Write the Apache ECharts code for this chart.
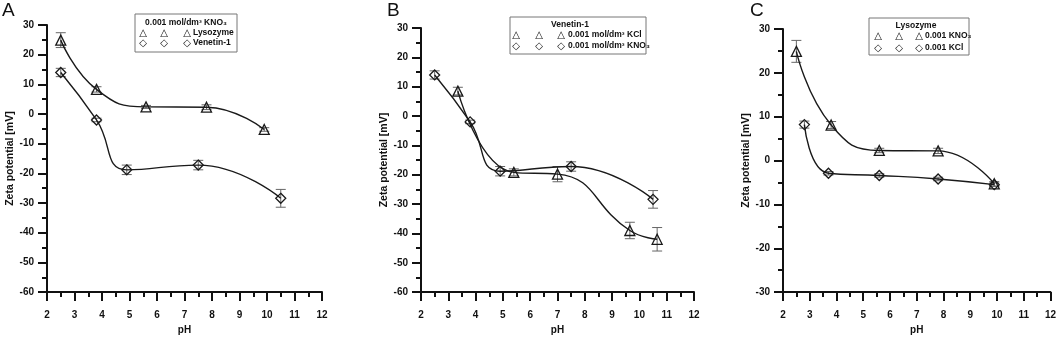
<!DOCTYPE html>
<html>
<head>
<meta charset="utf-8">
<script src="https://cdn.jsdelivr.net/npm/echarts@6/dist/echarts.min.js"></script>
<style>
  html, body { margin: 0; padding: 0; background: #fff; }
  #chart { width: 1059px; height: 340px; }
</style>
</head>
<body>
<div id="chart"></div>
<script>
// [pH, zeta potential (mV), error]
var aLysozyme = [[2.5, 24.9, 2.5], [3.8, 8.3, 0.9], [5.6, 2.4, 0.5], [7.8, 2.3, 0.8], [9.9, -5.2, 0.6]]
var aVenetin = [[2.5, 14, 1.4], [3.8, -2, 0.6], [4.9, -18.8, 1.6], [7.5, -17.2, 1.6], [10.5, -28.4, 3]]
var bKCl = [[3.35, 8.5, 1.3], [5.4, -19.2, 1.2], [7.0, -19.8, 2.6], [9.65, -39, 2.8], [10.65, -42, 4]]
var bKNO3 = [[2.5, 14, 1.4], [3.8, -2, 0.6], [4.9, -18.8, 1.6], [7.5, -17.2, 1.6], [10.5, -28.4, 3]]
var cKNO3 = [[2.5, 24.9, 2.5], [3.8, 8.1, 0.8], [5.6, 2.3, 0.5], [7.8, 2.2, 0.6], [9.9, -5.3, 0.5]]
var cKCl = [[2.8, 8.2, 0.8], [3.7, -2.9, 0.4], [5.6, -3.4, 0.4], [7.8, -4.2, 0.4], [9.9, -5.5, 0.4]]

var panelLetters = ['A', 'B', 'C']
var yRanges = [[-60, 30], [-60, 30], [-30, 30]]
var xRange = [2, 12]

var chart = echarts.init(document.getElementById('chart'))

var FONT = 'Liberation Sans, Arial, sans-serif'
var grids = [
  { left: 47, top: 25, width: 275, height: 275 },
  { left: 421, top: 28, width: 273, height: 272 },
  { left: 783, top: 29, width: 270, height: 269 },
]

function xAxisFor(i) {
  return {
    gridIndex: i,
    type: 'value',
    min: xRange[0],
    max: xRange[1],
    interval: 1,
    name: 'pH',
    nameLocation: 'middle',
    nameGap: 26,
    nameTextStyle: { fontFamily: FONT, fontWeight: 'bold', fontSize: 10, color: '#111' },
    axisLine: { onZero: false, lineStyle: { color: '#111', width: 2 } },
    axisTick: { length: 9, lineStyle: { color: '#111', width: 2 } },
    minorTick: { show: true, splitNumber: 2, length: 5, lineStyle: { color: '#111', width: 2 } },
    axisLabel: { margin: 18, fontFamily: FONT, fontWeight: 'bold', fontSize: 10, color: '#111' },
    splitLine: { show: false },
  }
}

function yAxisFor(i) {
  return {
    gridIndex: i,
    type: 'value',
    min: yRanges[i][0],
    max: yRanges[i][1],
    interval: 10,
    name: 'Zeta potential [mV]',
    nameLocation: 'middle',
    nameGap: 31,
    nameTextStyle: { fontFamily: FONT, fontWeight: 'bold', fontSize: 10.5, color: '#111' },
    axisLine: { show: true, onZero: false, lineStyle: { color: '#111', width: 2 } },
    axisTick: { show: true, length: 9, lineStyle: { color: '#111', width: 2 } },
    minorTick: { show: true, splitNumber: 2, length: 5, lineStyle: { color: '#111', width: 2 } },
    axisLabel: { margin: 13, fontFamily: FONT, fontWeight: 'bold', fontSize: 10, color: '#111' },
    splitLine: { show: false },
  }
}

function curve(data, i, symbol) {
  return {
    type: 'line',
    xAxisIndex: i,
    yAxisIndex: i,
    smooth: 0.5,
    data: data.map(function (d) { return [d[0], d[1]] }),
    symbol: symbol,
    symbolSize: 10,
    lineStyle: { color: '#1a1a1a', width: 1.4 },
    itemStyle: { color: 'rgba(255,255,255,0)', borderColor: '#1a1a1a', borderWidth: 1.3 },
    z: 3,
  }
}

function errorBars(data, i) {
  return {
    type: 'custom',
    xAxisIndex: i,
    yAxisIndex: i,
    data: data.map(function (d) { return [d[0], d[1] - d[2], d[1] + d[2]] }),
    encode: { x: 0, y: [1, 2] },
    renderItem: function (params, api) {
      var lo = api.coord([api.value(0), api.value(1)])
      var hi = api.coord([api.value(0), api.value(2)])
      var w = 5
      var st = { stroke: '#666', lineWidth: 1 }
      return {
        type: 'group',
        children: [
          { type: 'line', shape: { x1: lo[0], y1: lo[1], x2: hi[0], y2: hi[1] }, style: st },
          { type: 'line', shape: { x1: lo[0] - w, y1: lo[1], x2: lo[0] + w, y2: lo[1] }, style: st },
          { type: 'line', shape: { x1: hi[0] - w, y1: hi[1], x2: hi[0] + w, y2: hi[1] }, style: st },
        ],
      }
    },
    z: 2,
  }
}

// Origin-style legend box: title + rows with three symbols each
function legendBox(box, title, rows) {
  var els = [
    {
      type: 'rect',
      shape: { x: box.x, y: box.y, width: box.w, height: box.h },
      style: { fill: '#fff', stroke: '#777', lineWidth: 1 },
      z: 10,
    },
    {
      type: 'text',
      x: box.titleX,
      y: box.titleY,
      style: { text: title, font: 'bold 8.5px ' + FONT, fill: '#111', align: 'center', verticalAlign: 'middle' },
      z: 11,
    },
  ]
  rows.forEach(function (r, k) {
    var yy = box.rowY[k]
    box.symX.forEach(function (sx) {
      els.push({
        type: 'text',
        x: sx,
        y: yy,
        style: { text: r.sym, font: '10px DejaVu Sans', fill: '#111', align: 'center', verticalAlign: 'middle' },
        z: 11,
      })
    })
    els.push({
      type: 'text',
      x: box.textX,
      y: yy,
      style: { text: r.label, font: 'bold 8.5px ' + FONT, fill: '#111', align: 'left', verticalAlign: 'middle' },
      z: 11,
    })
  })
  return els
}

var graphics = []
var letterX = [2, 387, 750]
panelLetters.forEach(function (l, i) {
  graphics.push({
    type: 'text',
    x: letterX[i],
    y: 1,
    style: { text: l, font: '19px ' + FONT, fill: '#111', align: 'left', verticalAlign: 'top' },
  })
})

graphics = graphics.concat(
  legendBox(
    { x: 135, y: 14, w: 102, h: 38, titleX: 186, titleY: 23, rowY: [33, 43], symX: [143, 164, 187], textX: 193 },
    '0.001 mol/dm³ KNO₃',
    [{ sym: '△', label: 'Lysozyme' }, { sym: '◇', label: 'Venetin-1' }]
  ),
  legendBox(
    { x: 510, y: 17, w: 136, h: 37, titleX: 570, titleY: 25, rowY: [35, 46], symX: [516, 539, 561], textX: 568 },
    'Venetin-1',
    [{ sym: '△', label: '0.001 mol/dm³ KCl' }, { sym: '◇', label: '0.001 mol/dm³ KNO₃' }]
  ),
  legendBox(
    { x: 869, y: 18, w: 100, h: 37, titleX: 916, titleY: 26, rowY: [36, 48], symX: [878, 899, 919], textX: 925 },
    'Lysozyme',
    [{ sym: '△', label: '0.001 KNO₃' }, { sym: '◇', label: '0.001 KCl' }]
  )
)

var option = {
  animation: false,
  backgroundColor: '#fff',
  grid: grids,
  xAxis: [xAxisFor(0), xAxisFor(1), xAxisFor(2)],
  yAxis: [yAxisFor(0), yAxisFor(1), yAxisFor(2)],
  graphic: graphics,
  series: [
    errorBars(aLysozyme, 0), curve(aLysozyme, 0, 'triangle'),
    errorBars(aVenetin, 0), curve(aVenetin, 0, 'diamond'),
    errorBars(bKCl, 1), curve(bKCl, 1, 'triangle'),
    errorBars(bKNO3, 1), curve(bKNO3, 1, 'diamond'),
    errorBars(cKNO3, 2), curve(cKNO3, 2, 'triangle'),
    errorBars(cKCl, 2), curve(cKCl, 2, 'diamond'),
  ],
}

chart.setOption(option)
</script>
</body>
</html>
